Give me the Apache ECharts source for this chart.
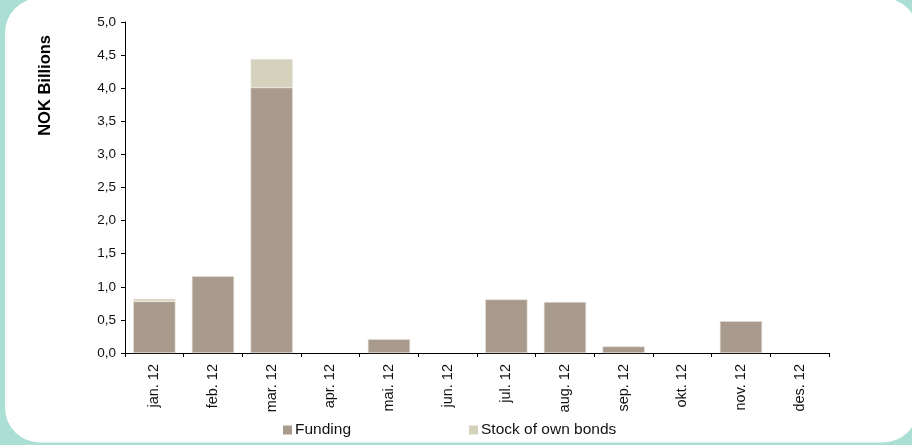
<!DOCTYPE html>
<html>
<head>
<meta charset="utf-8">
<script src="https://cdn.jsdelivr.net/npm/echarts@6/dist/echarts.min.js"></script>
<style>
  html, body { margin: 0; padding: 0; background: #acdfd4; }
  #chart { width: 912px; height: 445px; }
</style>
</head>
<body>
<div id="chart"></div>
<script>
// Monthly issuance, NOK billions
const months = ['jan. 12', 'feb. 12', 'mar. 12', 'apr. 12', 'mai. 12', 'jun. 12',
                'jul. 12', 'aug. 12', 'sep. 12', 'okt. 12', 'nov. 12', 'des. 12'];
const funding = [0.78, 1.16, 4.01, 0, 0.21, 0, 0.81, 0.77, 0.10, 0, 0.48, 0];
const stockOfOwnBonds = [0.04, 0, 0.43, 0, 0, 0, 0, 0, 0, 0, 0, 0];
const yTicks = { min: 0, max: 5, interval: 0.5 };

// empty months draw no bar at all (no hairline from the bar border)
const asBars = arr => arr.map(v => (v === 0 ? '-' : v));

const chart = echarts.init(document.getElementById('chart'), null, { renderer: 'canvas' });
const font = 'Liberation Sans, Arial, sans-serif';

chart.setOption({
  backgroundColor: '#acdfd4',
  animation: false,
  graphic: [
    {
      type: 'rect', z: -10, silent: true,
      shape: { x: 5, y: -2, width: 913, height: 444.5, r: 35 },
      style: { fill: '#ffffff' }
    },
    {
      type: 'text', silent: true,
      x: 45, y: 35, rotation: Math.PI / 2,
      style: { text: 'NOK Billions', font: 'bold 16.5px ' + font, fill: '#000', textAlign: 'right', textVerticalAlign: 'middle' }
    }
  ],
  grid: { left: 125, right: 83, top: 22, bottom: 92, containLabel: false },
  legend: {
    left: 278, top: 417,
    itemWidth: 9, itemHeight: 9, itemGap: 118,
    icon: 'rect',
    itemStyle: { borderWidth: 0 },
    textStyle: { fontFamily: font, fontSize: 15.5, color: '#111', padding: [0, 0, 0, -2] },
    data: ['Funding', 'Stock of own bonds']
  },
  xAxis: {
    type: 'category',
    data: months,
    axisLine: { lineStyle: { color: '#000', width: 1 } },
    axisTick: { show: true, length: 4, alignWithLabel: false, lineStyle: { color: '#000' } },
    axisLabel: { rotate: 90, margin: 11, fontFamily: font, fontSize: 14.5, color: '#111', interval: 0 },
    splitLine: { show: false }
  },
  yAxis: {
    type: 'value',
    min: yTicks.min, max: yTicks.max, interval: yTicks.interval,
    axisLine: { show: true, lineStyle: { color: '#000', width: 1 } },
    axisTick: { show: true, length: 4, inside: false, lineStyle: { color: '#000' } },
    axisLabel: {
      margin: 9, fontFamily: font, fontSize: 13.5, color: '#111',
      formatter: v => v.toFixed(1).replace('.', ',')
    },
    splitLine: { show: false }
  },
  series: [
    {
      name: 'Funding', type: 'bar', stack: 'total',
      data: asBars(funding), barCategoryGap: '28%',
      itemStyle: { color: '#a89a8c', borderColor: '#e6e0d8', borderWidth: 0.6 }
    },
    {
      name: 'Stock of own bonds', type: 'bar', stack: 'total',
      data: asBars(stockOfOwnBonds), barCategoryGap: '28%',
      itemStyle: { color: '#d4d1bd', borderColor: '#ecebe0', borderWidth: 0.6 }
    }
  ]
});
</script>
</body>
</html>
